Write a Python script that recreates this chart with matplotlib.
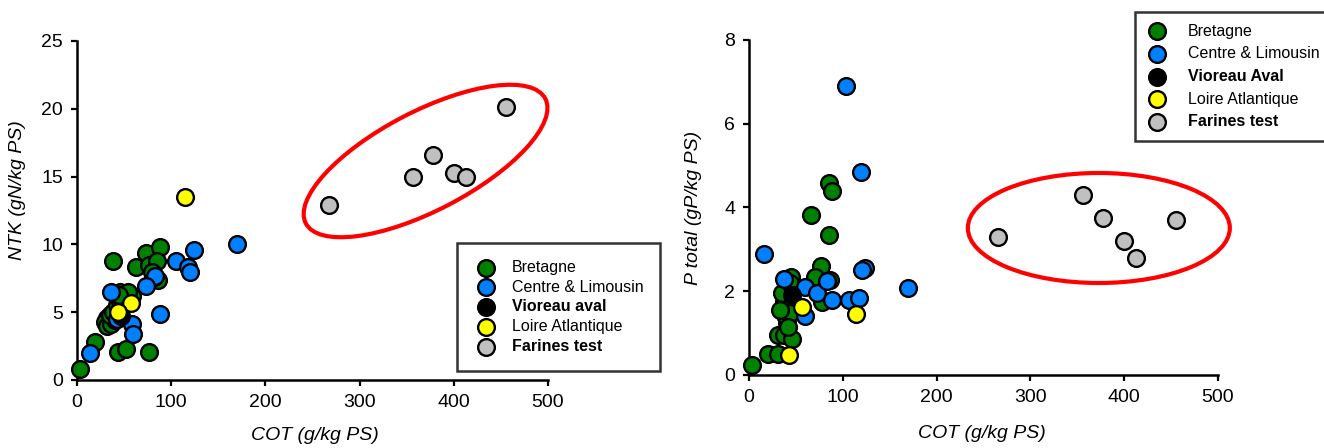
import numpy as np
import matplotlib
matplotlib.use("Agg")
import matplotlib.pyplot as plt
import matplotlib.transforms as mtransforms
from matplotlib.patches import Ellipse

plt.rcParams['font.family'] = ['Liberation Sans', 'DejaVu Sans']

# Series names and colours
noms = ['Bretagne', 'Centre & Limousin', 'Vioreau aval', 'Loire Atlantique', 'Farines test']
noms_p = ['Bretagne', 'Centre & Limousin', 'Vioreau Aval', 'Loire Atlantique', 'Farines test']
couleurs = ['#008000', '#0080ff', '#000000', '#ffff00', '#c0c0c0']

# NTK (gN/kg PS) en fonction du COT (g/kg PS)
bret_cot = [3, 19, 43, 52, 76, 38, 73, 88, 63, 76, 85, 86, 46, 58, 32, 30, 32, 36, 40, 35,
            38, 42, 45, 50, 49, 54, 82, 80, 44]
bret_ntk = [0.8, 2.8, 2.1, 2.3, 2.1, 8.8, 9.4, 9.8, 8.3, 8.5, 8.8, 7.4, 6.5, 6.2, 4.6, 4.3,
            4.0, 4.1, 4.4, 4.8, 5.0, 5.5, 6.0, 6.2, 5.7, 6.5, 7.6, 8.0, 6.3]
cent_cot = [170, 124, 105, 118, 120, 83, 73, 36, 88, 58, 59, 14, 42]
cent_ntk = [10.0, 9.6, 8.8, 8.3, 8.0, 7.7, 6.9, 6.5, 4.9, 4.1, 3.4, 2.0, 4.5]
vio_cot = [47]
vio_ntk = [4.7]
loire_cot = [115, 57, 43]
loire_ntk = [13.5, 5.7, 5.0]
far_cot = [268, 357, 378, 400, 413, 455]
far_ntk = [12.9, 15.0, 16.6, 15.3, 15.0, 20.1]

# P total (gP/kg PS) en fonction du COT
bret_cot2 = [85, 88, 66, 85, 77, 3, 20, 31, 31, 37, 46, 40, 38, 37, 35, 45, 44, 70, 78, 86,
             44, 42, 33]
bret_p = [4.58, 4.4, 3.82, 3.35, 2.6, 0.25, 0.5, 0.5, 0.95, 0.95, 0.85, 1.25, 1.43, 1.75,
          1.95, 2.35, 2.19, 2.35, 1.75, 2.27, 1.48, 1.15, 1.55]
cent_cot2 = [103, 119, 16, 124, 121, 170, 37, 60, 72, 83, 88, 107, 117, 60]
cent_p = [6.9, 4.85, 2.9, 2.55, 2.5, 2.08, 2.3, 2.1, 1.95, 2.25, 1.8, 1.78, 1.85, 1.4]
vio_cot2 = [46]
vio_p = [1.9]
loire_cot2 = [57, 114, 43]
loire_p = [1.63, 1.45, 0.48]
far_cot2 = [265, 356, 377, 400, 413, 455]
far_p = [3.3, 4.3, 3.75, 3.2, 2.8, 3.7]

fig = plt.figure(figsize=(13.24, 4.48), dpi=100)


def style_axe(ax, ymax, ystep):
    ax.set_xlim(0, 500)
    ax.set_ylim(0, ymax)
    ax.set_xticks(np.arange(0, 501, 100))
    ax.set_yticks(np.arange(0, ymax + 0.1, ystep))
    for s in ['top', 'right']:
        ax.spines[s].set_visible(False)
    for s in ['left', 'bottom']:
        ax.spines[s].set_linewidth(1.8)
    ax.tick_params(direction='out', length=4, width=1.6, labelsize=14, pad=6)


def nuage(ax, xs, ys, noms_s):
    hs = []
    for x, y, c, n in zip(xs, ys, couleurs, noms_s):
        h = ax.scatter(x, y, s=145, c=c, edgecolors='black', linewidths=1.7,
                       clip_on=False, zorder=3, label=n)
        hs.append(h)
    return hs


def ellipse(ax, cx, cy, w, h, ang):
    # ellipse dessinee en pixels autour d'un centre en coordonnees donnees
    tr = fig.dpi_scale_trans + mtransforms.ScaledTranslation(cx, cy, ax.transData)
    e = Ellipse((0, 0), w / 100, h / 100, angle=ang, transform=tr, fill=False,
                edgecolor='#ff0000', linewidth=3, clip_on=False, zorder=4)
    ax.add_patch(e)


# ---- graphe NTK ----
ax1 = fig.add_axes([0.0582, 0.1518, 0.3557, 0.7567])
style_axe(ax1, 25, 5)
hs1 = nuage(ax1, [bret_cot, cent_cot, vio_cot, loire_cot, far_cot],
            [bret_ntk, cent_ntk, vio_ntk, loire_ntk, far_ntk], noms)
ellipse(ax1, 370, 16.15, 270, 99, 27.5)
ax1.set_xlabel('COT (g/kg PS)', fontsize=14, style='italic')
ax1.set_ylabel('NTK (gN/kg PS)', fontsize=14, style='italic')
ax1.xaxis.set_label_coords(0.505, -0.14)
ax1.yaxis.set_label_coords(-0.108, 0.56)
leg1 = fig.legend(handles=hs1, loc='upper left', bbox_to_anchor=(0.345, 0.4576),
                  fontsize=11.5, frameon=True, fancybox=False, edgecolor='black',
                  labelspacing=0.3, borderpad=1.05, handletextpad=0.9,
                  borderaxespad=0, handlelength=1.5, scatterpoints=1)
leg1.get_frame().set_linewidth(1.8)
leg1.set_zorder(5)

# ---- graphe P total ----
ax2 = fig.add_axes([0.5657, 0.163, 0.3542, 0.7478])
style_axe(ax2, 8, 2)
hs2 = nuage(ax2, [bret_cot2, cent_cot2, vio_cot2, loire_cot2, far_cot2],
            [bret_p, cent_p, vio_p, loire_p, far_p], noms_p)
ellipse(ax2, 373, 3.51, 262, 110, 0)
ax2.set_xlabel('COT (g/kg PS)', fontsize=14, style='italic')
ax2.set_ylabel('P total (gP/kg PS)', fontsize=14, style='italic')
ax2.xaxis.set_label_coords(0.497, -0.148)
ax2.yaxis.set_label_coords(-0.1, 0.5)
leg2 = fig.legend(handles=hs2, loc='upper left', bbox_to_anchor=(0.857, 0.973),
                  fontsize=11.5, frameon=True, fancybox=False, edgecolor='black',
                  labelspacing=0.48, borderpad=0.72, handletextpad=1.3,
                  borderaxespad=0, handlelength=1.3, scatterpoints=1)
leg2.get_frame().set_linewidth(1.8)

for leg in (leg1, leg2):
    leg.get_texts()[2].set_fontweight('bold')
    leg.get_texts()[4].set_fontweight('bold')

plt.savefig('out.png', dpi=100)
